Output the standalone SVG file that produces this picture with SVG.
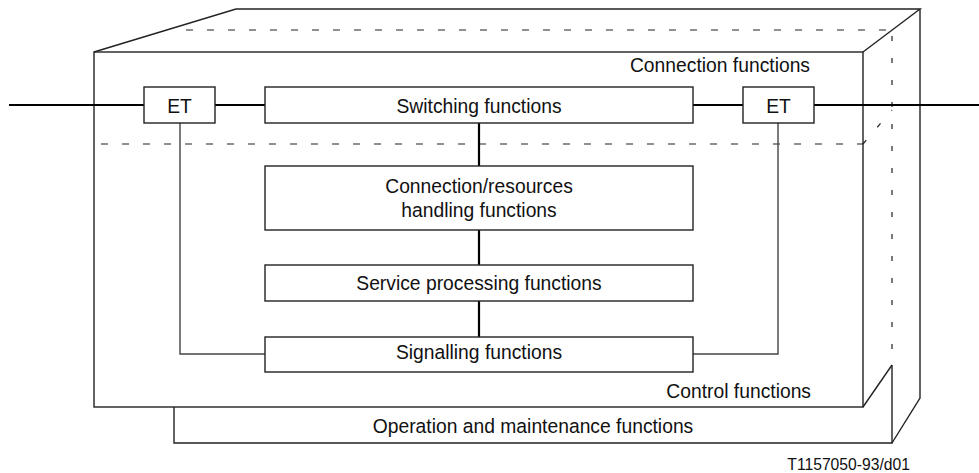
<svg xmlns="http://www.w3.org/2000/svg" width="979" height="473" viewBox="0 0 979 473">
<style>
  .frame { fill: none; stroke: #222; stroke-width: 1.4; }
  .box { fill: #fff; stroke: #222; stroke-width: 1.4; }
  .dash { fill: none; stroke: #222; stroke-width: 1.2; stroke-dasharray: 7 14; }
  .vdash { fill: none; stroke: #222; stroke-width: 1.2; stroke-dasharray: 5 17; }
  .thick { fill: none; stroke: #000; stroke-width: 2.2; }
  .thin { fill: none; stroke: #444; stroke-width: 1.4; }
  text { font-family: "Liberation Sans", Arial, sans-serif; font-size: 19.3px; fill: #111; }
  .mid { text-anchor: middle; }
  .end { text-anchor: end; }
</style>
<rect width="979" height="473" fill="#fff"/>
<g id="enclosure">
  <polyline class="frame" points="94,52 236,9 920,9 863,52"/>
  <polyline class="frame" points="920,9 920,398 892,443"/>
  <rect class="frame" x="94" y="52" width="769" height="355"/>
  <line class="frame" x1="863" y1="407" x2="892" y2="365"/>
  <line class="dash" x1="186" y1="30" x2="892" y2="30"/>
  <line class="vdash" x1="892" y1="36" x2="892" y2="362"/>
  <line class="dash" x1="101" y1="144" x2="863" y2="144"/>
  <line class="vdash" x1="863" y1="144" x2="892" y2="110"/>
  <text class="end" x="810" y="72">Connection functions</text>
  <text class="end" x="811" y="398">Control functions</text>
</g>
<g id="oam">
  <polyline class="frame" points="174,407 174,443 892,443 892,365"/>
  <text class="mid" x="533" y="433">Operation and maintenance functions</text>
</g>
<g id="connectors">
  <line class="thick" x1="9" y1="105" x2="144" y2="105"/>
  <line class="thick" x1="215" y1="105" x2="265" y2="105"/>
  <line class="thick" x1="693" y1="105" x2="743" y2="105"/>
  <line class="thick" x1="814" y1="105" x2="979" y2="105"/>
  <line class="thick" x1="479" y1="123" x2="479" y2="166"/>
  <line class="thick" x1="479" y1="230" x2="479" y2="265"/>
  <line class="thick" x1="479" y1="301" x2="479" y2="337"/>
  <polyline class="thin" points="180,123 180,354 265,354"/>
  <polyline class="thin" points="778,123 778,354 693,354"/>
</g>
<g id="et-left">
  <rect class="box" x="144" y="87" width="71" height="36"/>
  <text class="mid" x="179.5" y="112.5">ET</text>
</g>
<g id="switching">
  <rect class="box" x="265" y="87" width="428" height="36"/>
  <text class="mid" x="479" y="112.5">Switching functions</text>
</g>
<g id="et-right">
  <rect class="box" x="743" y="87" width="71" height="36"/>
  <text class="mid" x="778.5" y="112.5">ET</text>
</g>
<g id="conn-resources">
  <rect class="box" x="265" y="166" width="428" height="64"/>
  <text class="mid" x="479" y="193">Connection/resources</text>
  <text class="mid" x="479" y="216.5">handling functions</text>
</g>
<g id="service">
  <rect class="box" x="265" y="265" width="428" height="36"/>
  <text class="mid" x="479" y="290">Service processing functions</text>
</g>
<g id="signalling">
  <rect class="box" x="265" y="337" width="428" height="35"/>
  <text class="mid" x="479" y="359">Signalling functions</text>
</g>
<text class="end" x="910" y="470" style="font-size:15.7px">T1157050-93/d01</text>
</svg>
